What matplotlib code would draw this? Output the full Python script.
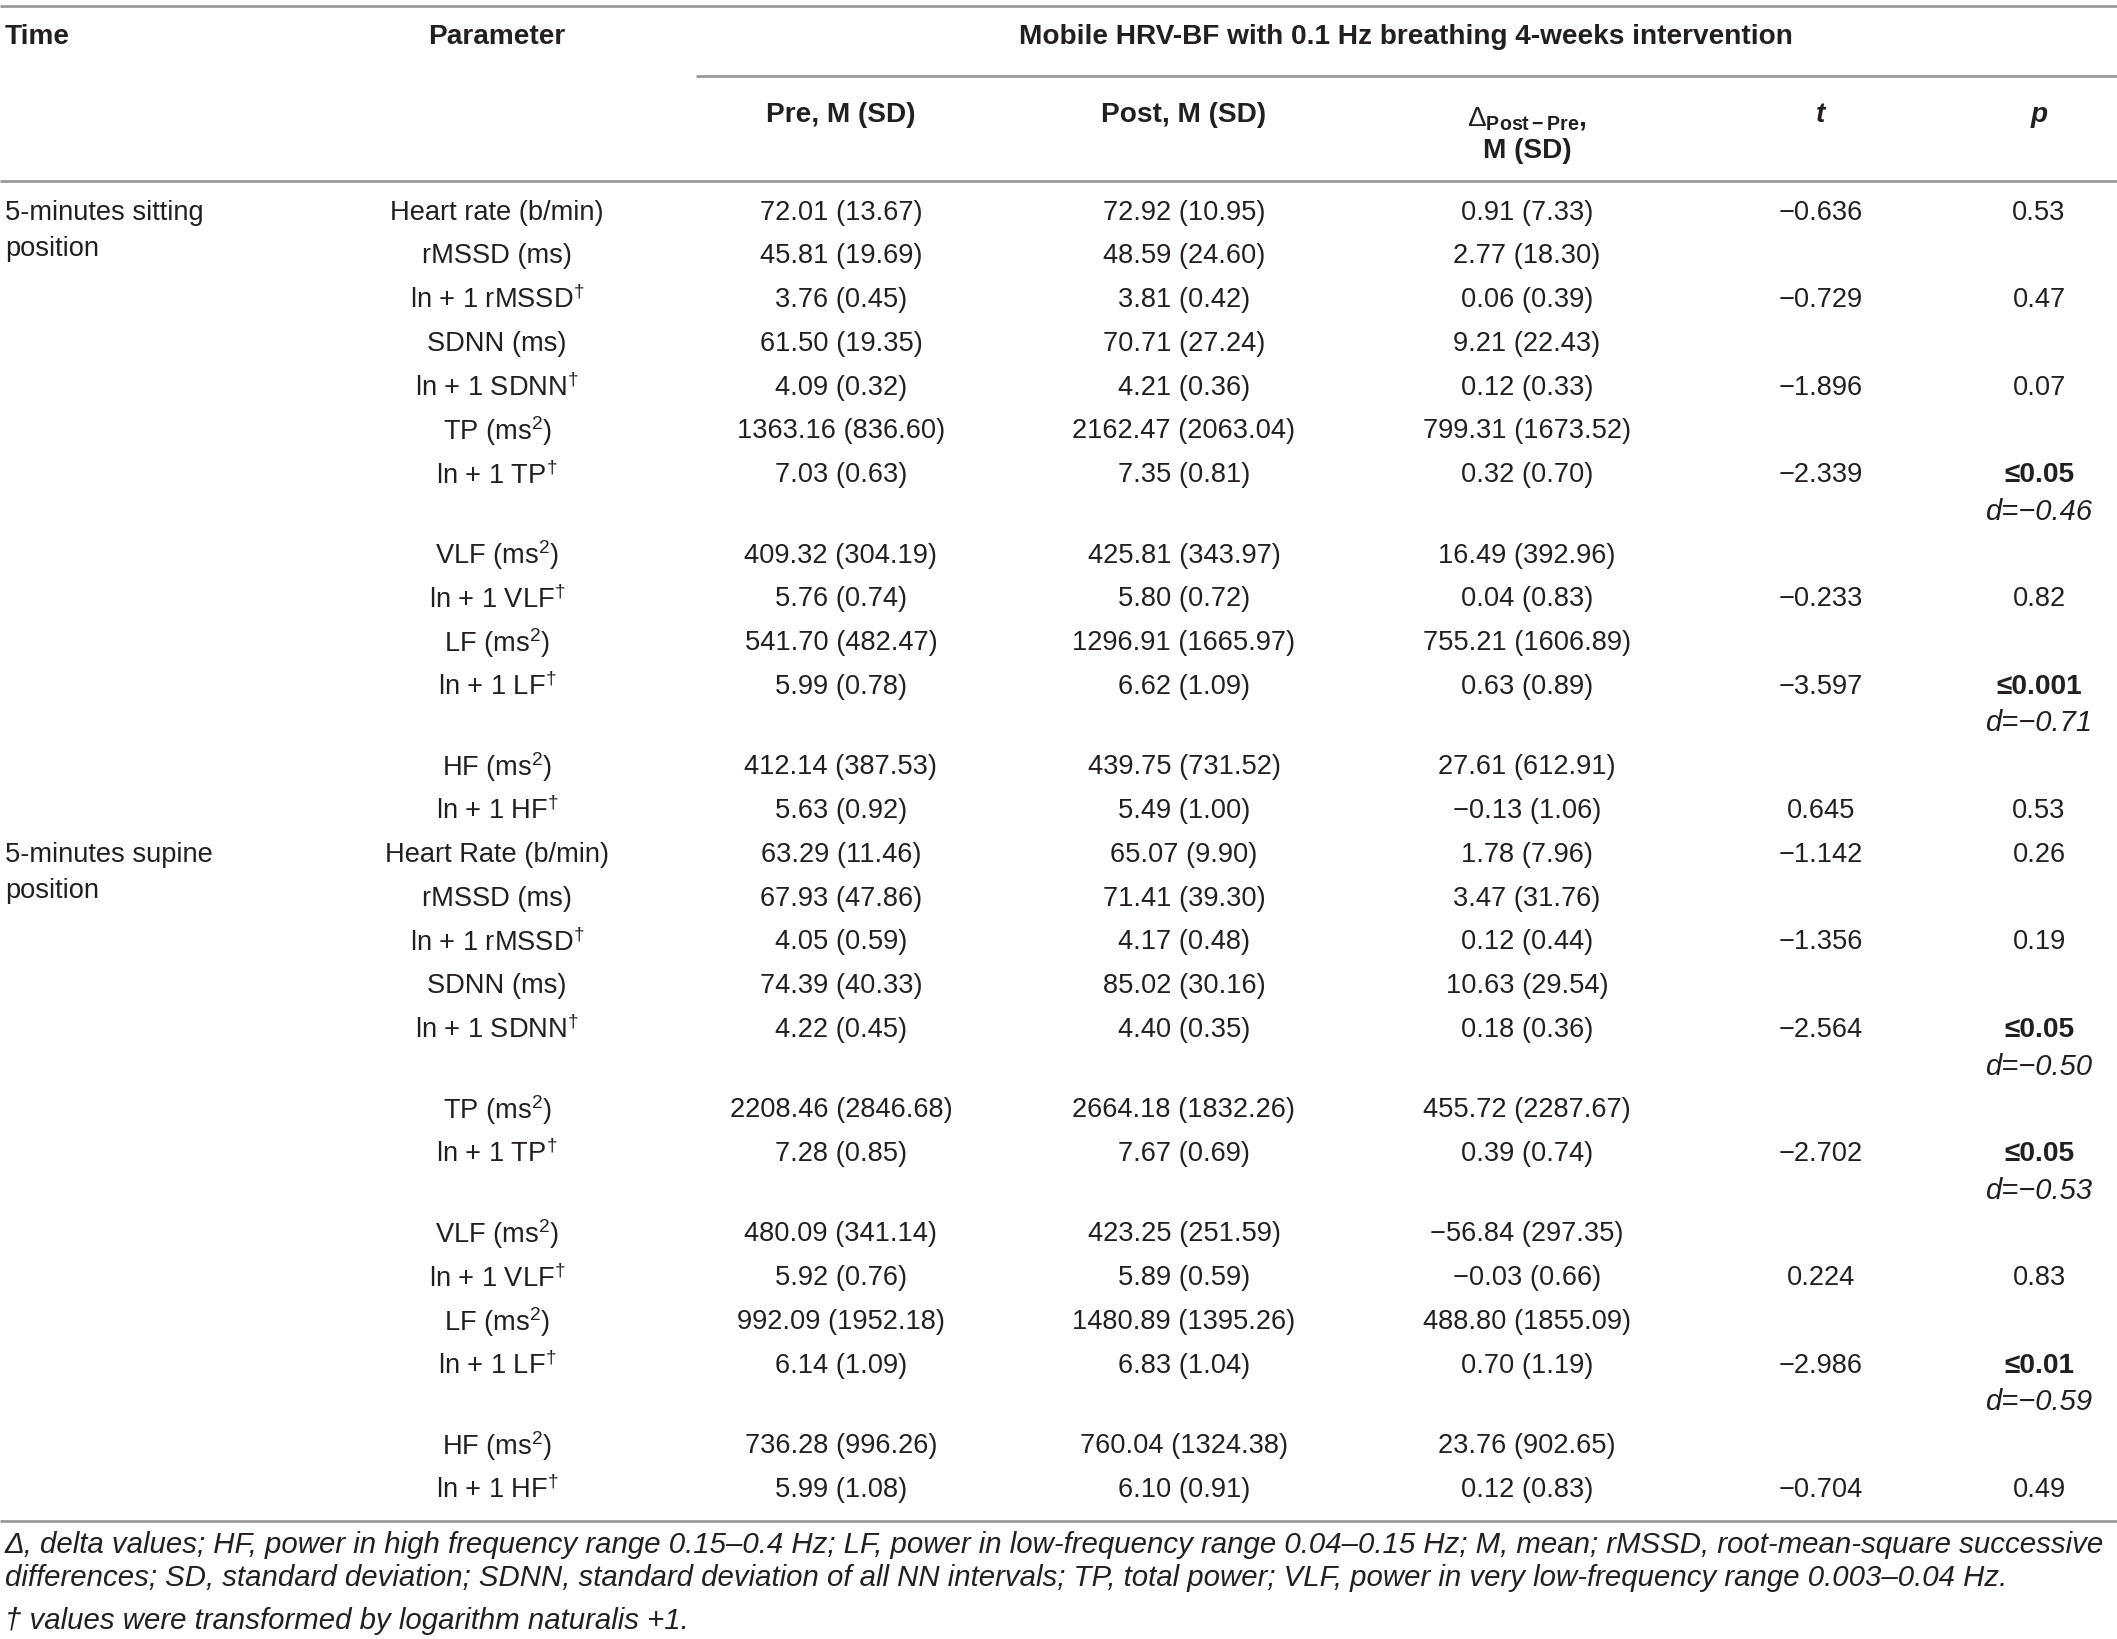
import matplotlib
matplotlib.use("Agg")
import matplotlib.pyplot as plt

plt.rcParams['font.family'] = ['Liberation Sans', 'DejaVu Sans']
plt.rcParams['mathtext.fontset'] = 'custom'
plt.rcParams['mathtext.rm'] = 'Liberation Sans'
plt.rcParams['mathtext.it'] = 'Liberation Sans:italic'
plt.rcParams['mathtext.bf'] = 'Liberation Sans:bold'

# ---------------- data ----------------
time_labels = ["5-minutes sitting\nposition", "5-minutes supine\nposition"]

params_sitting = ["Heart rate (b/min)", "rMSSD (ms)", r"ln + 1 rMSSD$^{\dagger}$", "SDNN (ms)",
                  r"ln + 1 SDNN$^{\dagger}$", r"TP (ms$^{2}$)", r"ln + 1 TP$^{\dagger}$",
                  r"VLF (ms$^{2}$)", r"ln + 1 VLF$^{\dagger}$", r"LF (ms$^{2}$)",
                  r"ln + 1 LF$^{\dagger}$", r"HF (ms$^{2}$)", r"ln + 1 HF$^{\dagger}$"]
params_supine = ["Heart Rate (b/min)"] + params_sitting[1:]

pre_sit_m = [72.01, 45.81, 3.76, 61.50, 4.09, 1363.16, 7.03, 409.32, 5.76, 541.70, 5.99, 412.14, 5.63]
pre_sit_sd = [13.67, 19.69, 0.45, 19.35, 0.32, 836.60, 0.63, 304.19, 0.74, 482.47, 0.78, 387.53, 0.92]
post_sit_m = [72.92, 48.59, 3.81, 70.71, 4.21, 2162.47, 7.35, 425.81, 5.80, 1296.91, 6.62, 439.75, 5.49]
post_sit_sd = [10.95, 24.60, 0.42, 27.24, 0.36, 2063.04, 0.81, 343.97, 0.72, 1665.97, 1.09, 731.52, 1.00]
delta_sit_m = [0.91, 2.77, 0.06, 9.21, 0.12, 799.31, 0.32, 16.49, 0.04, 755.21, 0.63, 27.61, -0.13]
delta_sit_sd = [7.33, 18.30, 0.39, 22.43, 0.33, 1673.52, 0.70, 392.96, 0.83, 1606.89, 0.89, 612.91, 1.06]
t_sit = [-0.636, None, -0.729, None, -1.896, None, -2.339, None, -0.233, None, -3.597, None, 0.645]
p_sit = ["0.53", None, "0.47", None, "0.07", None, "≤0.05", None, "0.82", None, "≤0.001", None, "0.53"]
d_sit = [None, None, None, None, None, None, -0.46, None, None, None, -0.71, None, None]

pre_sup_m = [63.29, 67.93, 4.05, 74.39, 4.22, 2208.46, 7.28, 480.09, 5.92, 992.09, 6.14, 736.28, 5.99]
pre_sup_sd = [11.46, 47.86, 0.59, 40.33, 0.45, 2846.68, 0.85, 341.14, 0.76, 1952.18, 1.09, 996.26, 1.08]
post_sup_m = [65.07, 71.41, 4.17, 85.02, 4.40, 2664.18, 7.67, 423.25, 5.89, 1480.89, 6.83, 760.04, 6.10]
post_sup_sd = [9.90, 39.30, 0.48, 30.16, 0.35, 1832.26, 0.69, 251.59, 0.59, 1395.26, 1.04, 1324.38, 0.91]
delta_sup_m = [1.78, 3.47, 0.12, 10.63, 0.18, 455.72, 0.39, -56.84, -0.03, 488.80, 0.70, 23.76, 0.12]
delta_sup_sd = [7.96, 31.76, 0.44, 29.54, 0.36, 2287.67, 0.74, 297.35, 0.66, 1855.09, 1.19, 902.65, 0.83]
t_sup = [-1.142, None, -1.356, None, -2.564, None, -2.702, None, 0.224, None, -2.986, None, -0.704]
p_sup = ["0.26", None, "0.19", None, "≤0.05", None, "≤0.05", None, "0.83", None, "≤0.01", None, "0.49"]
d_sup = [None, None, None, None, -0.50, None, -0.53, None, None, None, -0.59, None, None]

title_text = "Mobile HRV-BF with 0.1 Hz breathing 4-weeks intervention"
col_headers = ["Pre, M (SD)", "Post, M (SD)", r"$\Delta_{\mathbf{Post-Pre}}$," + "\nM (SD)", "t", "p"]
footnotes = [
    "Δ, delta values; HF, power in high frequency range 0.15–0.4 Hz; LF, power in low-frequency range 0.04–0.15 Hz; M, mean; rMSSD, root-mean-square successive",
    "differences; SD, standard deviation; SDNN, standard deviation of all NN intervals; TP, total power; VLF, power in very low-frequency range 0.003–0.04 Hz.",
    "† values were transformed by logarithm naturalis +1.",
]

# ---------------- layout ----------------
W, H = 2117, 1639
fig = plt.figure(figsize=(W / 100, H / 100), dpi=100)
ax = fig.add_axes([0, 0, 1, 1])
ax.set_xlim(0, W)
ax.set_ylim(H, 0)
ax.axis('off')

TXT = '#231f20'
LINE = '#9a9a9a'
FS = 19.6
FSB = 20.2
FSI = 21.0
FSN = 21.2

x_time = 5
x_param = 497
x_cols = [841, 1184, 1527, 1821, 2039]
x_d_right = 2092


def fmt(v, nd=2):
    s = f"{abs(v):.{nd}f}"
    return ("−" + s) if v < 0 else s


def cell(m, sd):
    return f"{fmt(m)} ({fmt(sd)})"


# rules
ax.plot([0, W], [6, 6], color=LINE, lw=2, solid_capstyle='butt')
ax.plot([696, W], [76, 76], color=LINE, lw=2, solid_capstyle='butt')
ax.plot([0, W], [181, 181], color=LINE, lw=2, solid_capstyle='butt')
ax.plot([0, W], [1521, 1521], color=LINE, lw=2, solid_capstyle='butt')

# headers
ax.text(x_time, 37, "Time", fontsize=FSB, fontweight='bold', color=TXT, ha='left', va='center')
ax.text(x_param, 37, "Parameter", fontsize=FSB, fontweight='bold', color=TXT, ha='center', va='center')
ax.text(1406, 37, title_text, fontsize=FSB, fontweight='bold', color=TXT, ha='center', va='center')
for i, h in enumerate(col_headers):
    if i == 2:
        ax.text(x_cols[i], 118, r"$\Delta_{\mathbf{Post-Pre}}$,", fontsize=FSB, fontweight='bold',
                color=TXT, ha='center', va='center')
        ax.text(x_cols[i], 151, "M (SD)", fontsize=FSB, fontweight='bold', color=TXT,
                ha='center', va='center')
    else:
        style = 'italic' if i >= 3 else 'normal'
        ax.text(x_cols[i], 115, h, fontsize=FSB, fontweight='bold', fontstyle=style,
                color=TXT, ha='center', va='center')

# body
y0 = 212.5
step = 43.8
extra = 36.5
blocks = [
    (time_labels[0], params_sitting, pre_sit_m, pre_sit_sd, post_sit_m, post_sit_sd,
     delta_sit_m, delta_sit_sd, t_sit, p_sit, d_sit),
    (time_labels[1], params_supine, pre_sup_m, pre_sup_sd, post_sup_m, post_sup_sd,
     delta_sup_m, delta_sup_sd, t_sup, p_sup, d_sup),
]

y = y0
for (tl, params, prm, prsd, pom, posd, dm, dsd, tv, pv, dv) in blocks:
    lines = tl.split("\n")
    for k, ln in enumerate(lines):
        ax.text(x_time, y + k * 36.5, ln, fontsize=FS, color=TXT, ha='left', va='center')
    for i in range(len(params)):
        ax.text(x_param, y, params[i], fontsize=FS, color=TXT, ha='center', va='center')
        ax.text(x_cols[0], y, cell(prm[i], prsd[i]), fontsize=FS, color=TXT, ha='center', va='center')
        ax.text(x_cols[1], y, cell(pom[i], posd[i]), fontsize=FS, color=TXT, ha='center', va='center')
        ax.text(x_cols[2], y, cell(dm[i], dsd[i]), fontsize=FS, color=TXT, ha='center', va='center')
        if tv[i] is not None:
            ax.text(x_cols[3], y, fmt(tv[i], 3), fontsize=FS, color=TXT, ha='center', va='center')
        if pv[i] is not None:
            bold = pv[i].startswith("≤")
            ax.text(x_cols[4], y, pv[i], fontsize=FSB if bold else FS, color=TXT, ha='center',
                    va='center', fontweight='bold' if bold else 'normal')
        if dv[i] is not None:
            ax.text(x_d_right, y + 36.5, "d=" + fmt(dv[i]), fontsize=FSI, color=TXT,
                    ha='right', va='center', fontstyle='italic')
            y += extra
        y += step

# footnotes
ax.text(5, 1545, footnotes[0], fontsize=FSN, color=TXT, ha='left', va='center', fontstyle='italic')
ax.text(5, 1578, footnotes[1], fontsize=FSN, color=TXT, ha='left', va='center', fontstyle='italic')
ax.text(5, 1621, footnotes[2], fontsize=FSN, color=TXT, ha='left', va='center', fontstyle='italic')

fig.savefig("out.png", dpi=100)
